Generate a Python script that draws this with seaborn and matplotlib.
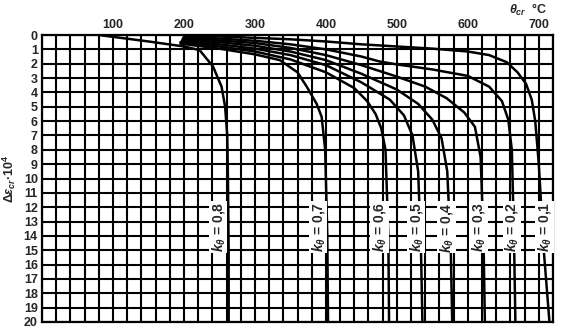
import matplotlib
matplotlib.use("Agg")
import matplotlib.pyplot as plt
import seaborn as sns
import pandas as pd
import numpy as np

# ---- data ----
k_labels = ["0,8", "0,7", "0,6", "0,5", "0,4", "0,3", "0,2", "0,1"]

theta_08 = [80, 150, 200, 222, 241, 253, 258, 261, 262, 263, 263]
eps_08   = [0.0, 0.45, 0.8, 1.05, 2.2, 3.6, 5.0, 7.0, 10.0, 15.0, 20.0]

theta_07 = [195, 250, 300, 335, 360, 373, 387, 394, 399, 402, 403]
eps_07   = [0.6, 0.95, 1.35, 1.75, 2.6, 3.6, 4.8, 5.7, 8.0, 14.0, 20.0]

theta_06 = [195, 250, 300, 350, 400, 440, 458, 470, 478, 484, 488, 489]
eps_06   = [0.5, 0.8, 1.15, 1.7, 2.6, 3.7, 4.6, 5.5, 6.5, 8.0, 14.0, 20.0]

theta_05 = [197, 250, 300, 350, 400, 450, 490, 510, 522, 530, 534, 536]
eps_05   = [0.4, 0.65, 0.95, 1.4, 2.1, 3.3, 4.5, 5.6, 7.0, 9.5, 15.0, 20.0]

theta_04 = [198, 250, 300, 350, 400, 450, 500, 530, 550, 563, 571, 576, 578]
eps_04   = [0.3, 0.5, 0.75, 1.15, 1.75, 2.7, 3.8, 4.8, 5.9, 7.2, 9.5, 15.0, 20.0]

theta_03 = [199, 250, 300, 350, 400, 450, 500, 540, 570, 595, 610, 618, 622, 624]
eps_03   = [0.2, 0.38, 0.56, 0.9, 1.4, 2.1, 2.9, 3.6, 4.4, 5.4, 6.4, 8.5, 14.0, 20.0]

theta_02 = [200, 250, 300, 350, 400, 450, 476, 500, 550, 600, 630, 648, 657, 662, 665, 667]
eps_02   = [0.1, 0.25, 0.4, 0.65, 1.0, 1.5, 1.85, 2.05, 2.4, 2.85, 3.6, 4.6, 5.9, 8.0, 14.0, 20.0]

theta_01 = [200, 250, 300, 350, 400, 450, 500, 550, 600, 630, 655, 670, 682, 690, 695, 700, 707, 715]
eps_01   = [0.0, 0.1, 0.2, 0.3, 0.45, 0.65, 0.8, 0.95, 1.15, 1.4, 1.9, 2.6, 3.4, 4.5, 6.0, 9.0, 15.0, 20.0]

x_ticks = [100, 200, 300, 400, 500, 600, 700]
y_ticks = list(range(0, 21))

# label anchor positions (theta, eps) of the k labels
label_theta = [248, 389, 476, 527, 570, 615, 662, 708]
label_eps = [13.4] * 8

curves = [(theta_08, eps_08), (theta_07, eps_07), (theta_06, eps_06),
          (theta_05, eps_05), (theta_04, eps_04), (theta_03, eps_03),
          (theta_02, eps_02), (theta_01, eps_01)]

rows = []
for lab, (th, ep) in zip(k_labels, curves):
    for i, (a, b) in enumerate(zip(th, ep)):
        rows.append({"k": lab, "theta": a, "eps": b, "order": i})
df = pd.DataFrame(rows)

sns.set_theme(style="white")
plt.rcParams['font.family'] = ['Liberation Sans', 'DejaVu Sans']
plt.rcParams['mathtext.fontset'] = 'custom'
plt.rcParams['mathtext.rm'] = 'Liberation Sans:bold'
plt.rcParams['mathtext.it'] = 'Liberation Sans:italic:bold'
plt.rcParams['mathtext.bf'] = 'Liberation Sans:bold'

fig = plt.figure(figsize=(5.65, 3.29), dpi=100)
ax = fig.add_axes([42/565, 1-322/329, (553-42)/565, (322-35)/329])

# grid
ax.set_xlim(0, 720)
ax.set_ylim(20, 0)
for gx in range(0, 721, 20):
    ax.axvline(gx, color="black", lw=1.5, zorder=1)
for gy in range(0, 21):
    ax.axhline(gy, color="black", lw=1.5, zorder=1)

sns.lineplot(data=df, x="theta", y="eps", units="k", estimator=None, sort=False,
             color="black", lw=1.8, ax=ax, zorder=3, legend=False)

for lab, tx, ty in zip(k_labels, label_theta, label_eps):
    ax.text(tx, ty, r"$k_\theta$" + " = " + lab, rotation=90, ha="center", va="center",
            fontsize=10, fontweight="bold", zorder=4,
            bbox=dict(facecolor="white", edgecolor="none", pad=0.6))

ax.set_xlim(0, 720)
ax.set_ylim(20, 0)
ax.xaxis.tick_top()
ax.set_xticks(x_ticks)
ax.set_xticklabels([str(v) for v in x_ticks], fontsize=9, fontweight="bold")
ax.set_yticks(y_ticks)
ax.set_yticklabels([str(v) for v in y_ticks], fontsize=9, fontweight="bold")
ax.tick_params(axis="both", length=0, pad=3)
ax.set_xlabel("")
ax.set_ylabel(r"$\Delta\varepsilon_{cr}$" + "·10$^4$", fontsize=9, fontweight="bold", labelpad=4)
for s in ax.spines.values():
    s.set_color("black")
    s.set_linewidth(1.6)

fig.text(528/565, 1-10/329, r"$\theta_{cr}$" + "  °C", fontsize=9, fontweight="bold",
         ha="center", va="center")

fig.savefig("out.png", dpi=100)
